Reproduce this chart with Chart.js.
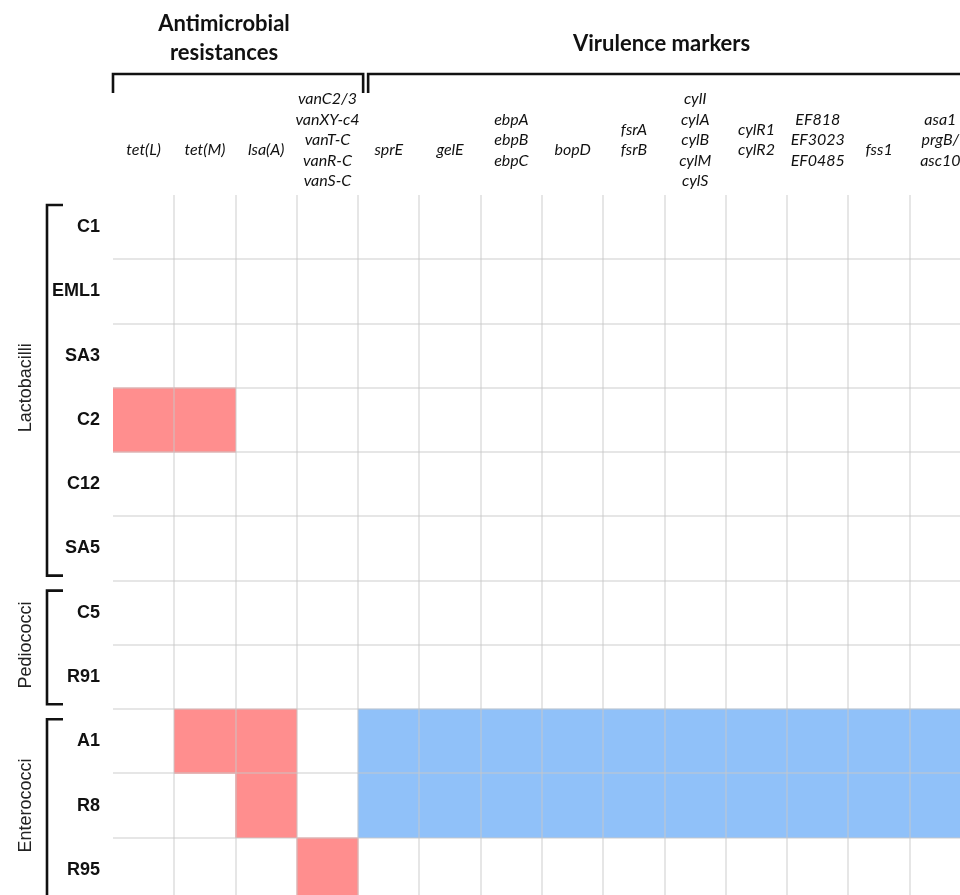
<!DOCTYPE html>
<html>
<head>
<meta charset="utf-8">
<script src="https://cdn.jsdelivr.net/npm/chart.js@4/dist/chart.umd.min.js"></script>
<style>
  html, body { margin: 0; padding: 0; background: #fff; overflow: hidden; }
  #wrap { width: 971px; height: 902px; }
</style>
</head>
<body>
<div id="wrap"><canvas id="grid" width="971" height="902"></canvas></div>
<script>
// Strains (rows) and the families they belong to
const strains = ['C1', 'EML1', 'SA3', 'C2', 'C12', 'SA5', 'C5', 'R91', 'A1', 'R8', 'R95'];
const families = ['Lactobacilli', 'Pediococci', 'Enterococci'];
const familyOfStrain = [0, 0, 0, 0, 0, 0, 1, 1, 2, 2, 2];

// Screened genes (columns); a leading '' keeps single-line names low in the header
const genes = [
  ['', 'tet(L)'], ['', 'tet(M)'], ['', 'lsa(A)'],
  ['vanC2/3', 'vanXY-c4', 'vanT-C', 'vanR-C', 'vanS-C'],
  ['', 'sprE'], ['', 'gelE'], ['ebpA', 'ebpB', 'ebpC'], ['', 'bopD'],
  ['fsrA', 'fsrB'], ['cylI', 'cylA', 'cylB', 'cylM', 'cylS'], ['cylR1', 'cylR2'],
  ['EF818', 'EF3023', 'EF0485'], ['', 'fss1'], ['asa1', 'prgB/', 'asc10']
];
const geneGroups = [['Antimicrobial', 'resistances'], ['Virulence markers']];
const groupOfGene = [0, 0, 0, 0, 1, 1, 1, 1, 1, 1, 1, 1, 1, 1];

// 1 = gene detected in the strain
const presence = [
  [0, 0, 0, 0, 0, 0, 0, 0, 0, 0, 0, 0, 0, 0], // C1
  [0, 0, 0, 0, 0, 0, 0, 0, 0, 0, 0, 0, 0, 0], // EML1
  [0, 0, 0, 0, 0, 0, 0, 0, 0, 0, 0, 0, 0, 0], // SA3
  [1, 1, 0, 0, 0, 0, 0, 0, 0, 0, 0, 0, 0, 0], // C2
  [0, 0, 0, 0, 0, 0, 0, 0, 0, 0, 0, 0, 0, 0], // C12
  [0, 0, 0, 0, 0, 0, 0, 0, 0, 0, 0, 0, 0, 0], // SA5
  [0, 0, 0, 0, 0, 0, 0, 0, 0, 0, 0, 0, 0, 0], // C5
  [0, 0, 0, 0, 0, 0, 0, 0, 0, 0, 0, 0, 0, 0], // R91
  [0, 1, 1, 0, 1, 1, 1, 1, 1, 1, 1, 1, 1, 1], // A1
  [0, 0, 1, 0, 1, 1, 1, 1, 1, 1, 1, 1, 1, 1], // R8
  [0, 0, 0, 1, 0, 0, 0, 0, 0, 0, 0, 0, 0, 0]  // R95
];

const groupColors = ['#ff8e8e', '#90c1f9'];
const gridColor = 'rgba(200,200,200,0.45)';

// one floating-bar dataset per strain: each detected gene fills its cell
const datasets = strains.map((s, r) => ({
  label: s,
  data: genes.map((g, c) => presence[r][c] ? [r, r + 1] : null),
  backgroundColor: ctx => groupColors[groupOfGene[ctx.dataIndex]],
  borderWidth: 0
}));

// keep the plot area flush with the canvas edges
const noPad = s => { s.paddingTop = 0; s.paddingBottom = 0; s.paddingLeft = 0; s.paddingRight = 0; };

// brackets, group titles and family labels around the grid
const annotations = {
  id: 'annotations',
  afterDraw(chart) {
    const { ctx, scales: { x, y } } = chart;
    const half = (x.getPixelForValue(1) - x.getPixelForValue(0)) / 2;
    const edge = i => x.getPixelForValue(i) - half;
    ctx.save();
    ctx.strokeStyle = '#111';
    ctx.lineWidth = 2.6;
    ctx.lineJoin = 'miter';

    // column group brackets
    const firstVir = groupOfGene.indexOf(1);
    const spans = [
      [edge(0), edge(firstVir) + 5],
      [edge(firstVir) + 10, edge(genes.length) + 20]
    ];
    spans.forEach(([a, b]) => {
      ctx.beginPath();
      ctx.moveTo(a, 93); ctx.lineTo(a, 74); ctx.lineTo(b, 74); ctx.lineTo(b, 93);
      ctx.stroke();
    });

    // column group titles
    ctx.fillStyle = '#111';
    ctx.font = 'bold 22px Lato';
    ctx.textAlign = 'center';
    ctx.textBaseline = 'alphabetic';
    ctx.fillText(geneGroups[0][0], edge(0) + 111, 31);
    ctx.fillText(geneGroups[0][1], edge(0) + 111, 60);
    ctx.fillText(geneGroups[1][0], (edge(firstVir) + edge(genes.length)) / 2 - 3, 51);

    // family brackets and rotated names
    families.forEach((f, k) => {
      const first = familyOfStrain.indexOf(k);
      const last = familyOfStrain.lastIndexOf(k);
      const top = y.getPixelForValue(first) + 10;
      const bot = y.getPixelForValue(last + 1) - 5;
      ctx.beginPath();
      ctx.moveTo(63, top); ctx.lineTo(47, top); ctx.lineTo(47, bot); ctx.lineTo(63, bot);
      ctx.stroke();
      const mid = (y.getPixelForValue(first) + y.getPixelForValue(last + 1)) / 2;
      ctx.save();
      ctx.translate(26, mid);
      ctx.rotate(-Math.PI / 2);
      ctx.font = '18px "Liberation Sans", Arial, sans-serif';
      ctx.fillStyle = '#222';
      ctx.textAlign = 'center';
      ctx.textBaseline = 'middle';
      ctx.fillText(f, 0, 0);
      ctx.restore();
    });
    ctx.restore();
  }
};

new Chart(document.getElementById('grid'), {
  type: 'bar',
  data: { labels: genes, datasets },
  plugins: [annotations],
  options: {
    responsive: false,
    animation: false,
    events: [],
    layout: { padding: 0 },
    datasets: { bar: { grouped: false, barPercentage: 1, categoryPercentage: 1 } },
    plugins: { legend: { display: false }, tooltip: { enabled: false } },
    scales: {
      x: {
        type: 'category',
        position: 'top',
        offset: true,
        border: { display: false },
        grid: {
          offset: true,
          z: 1,
          drawTicks: false,
          lineWidth: 2,
          color: ctx => ctx.index === 0 ? 'rgba(0,0,0,0)' : gridColor
        },
        ticks: {
          autoSkip: false,
          maxRotation: 0,
          minRotation: 0,
          crossAlign: 'center',
          padding: 14,
          color: '#111',
          font: { family: 'Lato', style: 'italic', size: 16, lineHeight: 1.28 }
        },
        afterFit: s => { s.height = 195; noPad(s); }
      },
      y: {
        type: 'linear',
        position: 'left',
        min: 0,
        max: strains.length,
        reverse: true,
        border: { display: false },
        grid: {
          z: 1,
          drawTicks: false,
          lineWidth: 2,
          color: ctx => ctx.tick && ctx.tick.value === 0 ? 'rgba(0,0,0,0)' : gridColor
        },
        ticks: { display: false, stepSize: 1 },
        afterFit: s => { s.width = 0; noPad(s); }
      },
      names: {
        type: 'category',
        position: 'left',
        labels: strains,
        offset: true,
        border: { display: false },
        grid: { display: false, drawTicks: false },
        ticks: {
          autoSkip: false,
          padding: 13,
          color: '#111',
          font: { family: '"Liberation Sans", Arial, sans-serif', weight: 'bold', size: 18 }
        },
        afterFit: s => { s.width = 113; noPad(s); }
      }
    }
  }
});
</script>
</body>
</html>
